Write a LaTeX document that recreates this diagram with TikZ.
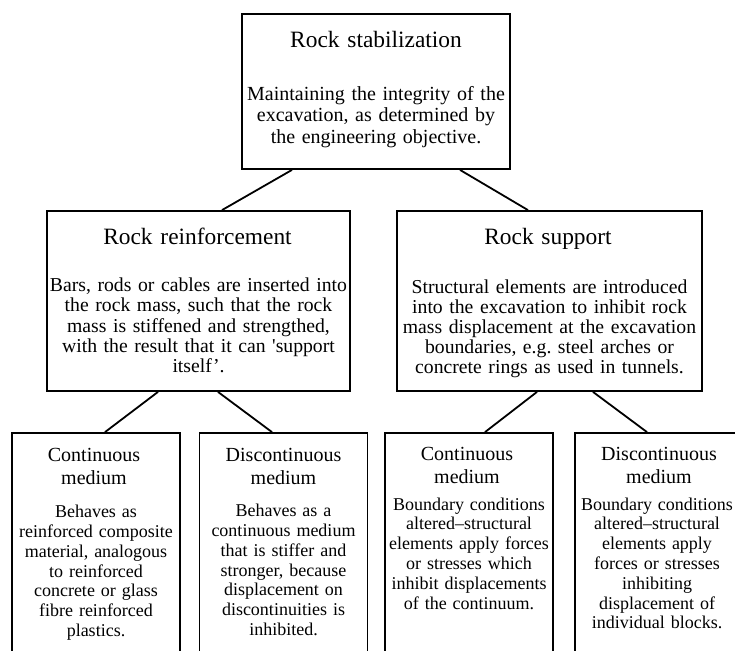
\documentclass[tikz,border=0pt]{standalone}
\usepackage{fontspec}
\setmainfont{Liberation Serif}
\frenchspacing
\begin{document}
\begin{tikzpicture}[x=0.5pt, y=-0.5pt, line width=0.9pt,
  box/.style={draw, inner sep=0pt},
  leaf/.style={draw, inner sep=0pt, minimum width=84pt, minimum height=133.5pt},
  head/.style={anchor=base, inner sep=0pt, text width=170pt, align=center, font=\fontsize{11.7}{14}\selectfont},
  body/.style={anchor=base, inner sep=0pt, text width=170pt, align=center, font=\fontsize{9.85}{10.1}\selectfont},
  subhead/.style={anchor=base, inner sep=0pt, text width=110pt, align=center, font=\fontsize{10}{11.7}\selectfont},
  subtext/.style={anchor=base, inner sep=0pt, text width=110pt, align=center, font=\fontsize{9}{9.9}\selectfont}]
  \useasboundingbox (0,0) rectangle (735,650);
  \clip (0,0) rectangle (735,650);

  % Rock stabilization
  \node[box, minimum width=134pt, minimum height=77.5pt] (stab) at (376,91.5) {};
  \node[head] (stabhead) at (376,47) {Rock stabilization};
  \node[body, font=\fontsize{10}{10.8}\selectfont] (stabtext) at (376,100) {
    Maintaining the integrity of the\\
    excavation, as determined by\\
    the engineering objective.
  };

  % Rock reinforcement
  \node[box, minimum width=151.5pt, minimum height=90pt] (reinf) at (198.5,301) {};
  \node[head] (reinfhead) at (197.5,244.3) {Rock reinforcement};
  \node[body] (reinftext) at (198.5,291.7) {
    Bars, rods or cables are inserted into\\
    the rock mass, such that the rock\\
    mass is stiffened and strengthed,\\
    with the result that it can \textquotesingle support\\
    itself'.
  };

  % Rock support
  \node[box, minimum width=152.5pt, minimum height=90pt] (supp) at (549.5,301) {};
  \node[head] (supphead) at (548,244.3) {Rock support};
  \node[body] (supptext) at (549.5,293) {
    Structural elements are introduced\\
    into the excavation to inhibit rock\\
    mass displacement at the excavation\\
    boundaries, e.g. steel arches or\\
    concrete rings as used in tunnels.
  };

  % Reinforcement: continuous / discontinuous
  \node[leaf] (rcont) at (96,566.5) {};
  \node[subhead] (rconthead) at (94,461) {Continuous\\medium};
  \node[subtext] (rconttext) at (96,517.7) {
    Behaves as\\
    reinforced composite\\
    material, analogous\\
    to reinforced\\
    concrete or glass\\
    fibre reinforced\\
    plastics.
  };

  \node[leaf] (rdisc) at (283.5,566.5) {};
  \node[subhead] (rdischead) at (283.5,461) {Discontinuous\\medium};
  \node[subtext] (rdisctext) at (283.5,516.7) {
    Behaves as a\\
    continuous medium\\
    that is stiffer and\\
    stronger, because\\
    displacement on\\
    discontinuities is\\
    inhibited.
  };

  % Support: continuous / discontinuous
  \node[leaf] (scont) at (469,566.5) {};
  \node[subhead] (sconthead) at (467,460) {Continuous\\medium};
  \node[subtext] (sconttext) at (469,510) {
    Boundary conditions\\
    altered--structural\\
    elements apply forces\\
    or stresses which\\
    inhibit displacements\\
    of the continuum.
  };

  \node[leaf] (sdisc) at (659,566.5) {};
  \node[subhead] (sdischead) at (659,460) {Discontinuous\\medium};
  \node[subtext] (sdisctext) at (657,510) {
    Boundary conditions\\
    altered--structural\\
    elements apply\\
    forces or stresses\\
    inhibiting\\
    displacement of\\
    individual blocks.
  };

  % connectors
  \draw ([xshift=-42pt]stab.south) -- ([xshift=11.75pt]reinf.north);
  \draw ([xshift=42pt]stab.south) -- ([xshift=-10.75pt]supp.north);
  \draw ([xshift=-20.25pt]reinf.south) -- ([xshift=4.5pt]rcont.north);
  \draw ([xshift=9.75pt]reinf.south) -- ([xshift=-5.75pt]rdisc.north);
  \draw ([xshift=-6.25pt]supp.south) -- ([xshift=8pt]scont.north);
  \draw ([xshift=21.75pt]supp.south) -- ([xshift=-6pt]sdisc.north);
\end{tikzpicture}
\end{document}
